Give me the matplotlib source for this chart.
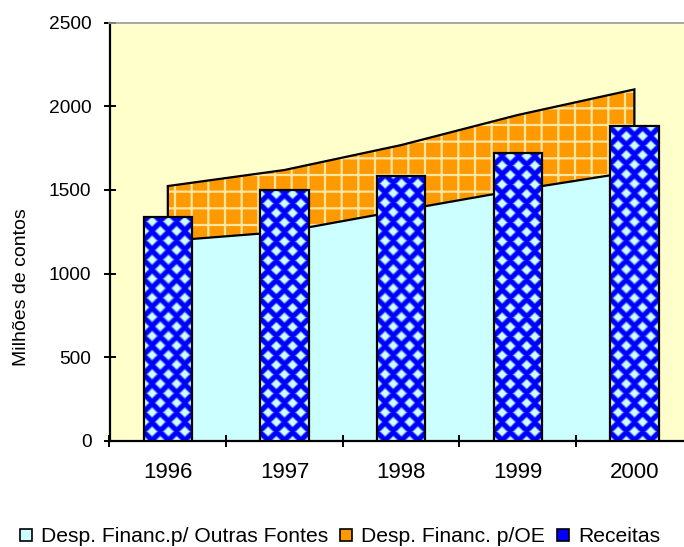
import numpy as np
import matplotlib
matplotlib.use("Agg")
import matplotlib.pyplot as plt
from matplotlib.patches import Patch

# Data (milhões de contos)
years = ["1996", "1997", "1998", "1999", "2000"]
outras_fontes = [1195, 1250, 1377, 1500, 1610]   # Desp. Financ. p/ Outras Fontes
desp_oe = [328, 369, 391, 448, 491]              # Desp. Financ. p/OE
receitas = [1335, 1500, 1585, 1720, 1880]        # Receitas

plt.rcParams["font.family"] = ["Liberation Sans", "DejaVu Sans"]
plt.rcParams["hatch.linewidth"] = 1.6

W, H = 684, 547
fig = plt.figure(figsize=(W / 100, H / 100), dpi=100)
fig.patch.set_facecolor("white")

left, right = 109.5, 692.7
bottom, top = H - 440.7, H - 22.7
ax = fig.add_axes([left / W, bottom / H, (right - left) / W, (top - bottom) / H])
ax.set_facecolor("#FFFFCC")

x = np.arange(len(years))
ax.set_xlim(-0.5, len(years) - 0.5)
ax.set_ylim(0, 2500)

BLUE = np.array([0.0, 0.0, 1.0])
CYAN = np.array([0.8, 1.0, 1.0])

# Stacked areas
total = np.add(outras_fontes, desp_oe)
ax.fill_between(x, 0, outras_fontes, facecolor="#CCFFFF", edgecolor="none",
                linewidth=0, zorder=1)
ax.fill_between(x, outras_fontes, total, facecolor="#FF9900",
                edgecolor="#FFE6A0", hatch="+", linewidth=0, zorder=1)
ax.plot(x, outras_fontes, color="black", lw=1.6, zorder=2)
ax.plot(np.r_[x[0], x, x[-1]],
        np.r_[outras_fontes[0], total, outras_fontes[-1]],
        color="black", lw=1.6, zorder=2, solid_joinstyle="miter")

# Bars with a diamond pattern
bw = 0.415
ax.bar(x, receitas, width=bw, facecolor="#0000FF", edgecolor="none", zorder=3)

pxx, pyy = 16.0, 19.0   # pattern repeat (pixels)
rad = 5.0


def lattice_dist(U, V):
    return (np.abs(U - pxx * np.round(U / pxx))
            + np.abs(V - pyy * np.round(V / pyy)))


for xi, h in zip(x, receitas):
    x0, x1 = xi - bw / 2, xi + bw / 2
    px0, py0 = ax.transData.transform((x0, 0))
    px1, py1 = ax.transData.transform((x1, h))
    nx, ny = int(round(px1 - px0)), int(round(py1 - py0))
    u = np.arange(nx) + 0.5 - nx / 2
    v = np.arange(ny) + 0.5
    U, V = np.meshgrid(u, v)
    d = np.minimum(lattice_dist(U, V - pyy / 2),
                   lattice_dist(U - pxx / 2, V))
    t = np.clip((rad + 1.2 - d) / 2.4, 0, 1)[..., None]
    img = BLUE * (1 - t) + CYAN * t
    ax.imshow(img, extent=(x0, x1, 0, h), origin="lower", aspect="auto",
              interpolation="bilinear", zorder=3.2)

ax.bar(x, receitas, width=bw, fill=False, edgecolor="black", linewidth=1.6,
       zorder=4)

ax.set_xlim(-0.5, len(years) - 0.5)
ax.set_ylim(0, 2500)

# Axes styling
ax.spines["right"].set_visible(False)
ax.spines["top"].set_color("#999999")
ax.spines["top"].set_linewidth(1.2)
ax.spines["left"].set_linewidth(1.6)
ax.spines["bottom"].set_linewidth(1.6)

ax.set_yticks(np.arange(0, 2501, 500))
ax.tick_params(axis="y", direction="inout", length=8, width=1.4,
               labelsize=13.8, pad=9)
ax.set_xticks(np.arange(-0.5, len(years), 1.0))
ax.set_xticklabels([])
ax.tick_params(axis="x", which="major", direction="inout", length=9, width=1.4)
ax.set_xticks(x, minor=True)
ax.set_xticklabels(years, minor=True)
ax.tick_params(axis="x", which="minor", length=0, labelsize=16, pad=15)

ax.set_ylabel("Milhões de contos", fontsize=14, va="center")
ax.yaxis.set_label_coords((22 - left) / (right - left), (440.7 - 287) / 418)

handles = [
    Patch(facecolor="#CCFFFF", edgecolor="black", linewidth=1.2),
    Patch(facecolor="#FF9900", edgecolor="black", linewidth=1.2),
    Patch(facecolor="#0000FF", edgecolor="black", linewidth=1.2),
]
labels = ["Desp. Financ.p/ Outras Fontes", "Desp. Financ. p/OE", "Receitas"]
fig.legend(handles, labels, loc="center", bbox_to_anchor=(340 / W, 10 / H),
           ncol=3, frameon=False, fontsize=15.2, handlelength=0.56,
           handleheight=0.56, handletextpad=0.45, columnspacing=0.55,
           borderaxespad=0, borderpad=0)

fig.savefig("out.png", dpi=100)
